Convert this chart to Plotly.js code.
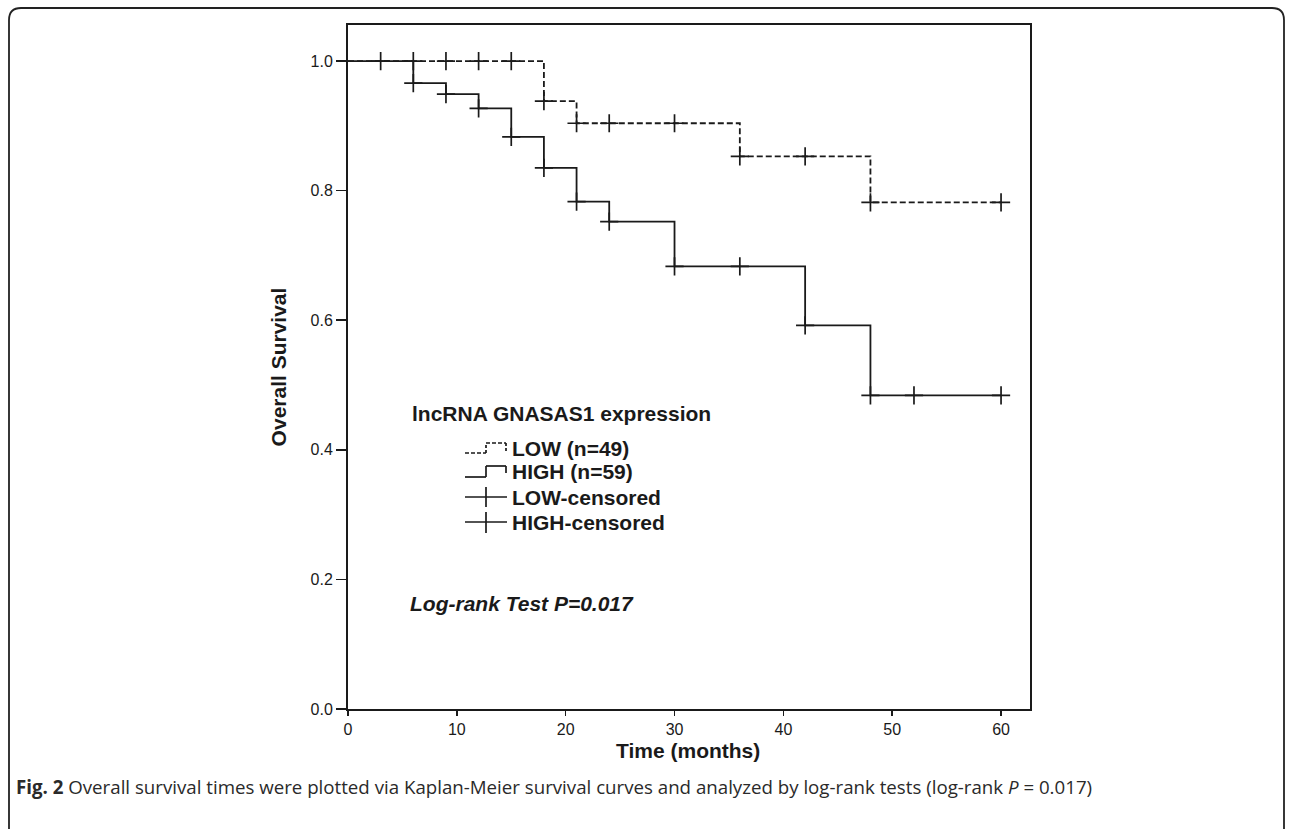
<!DOCTYPE html>
<html>
<head>
<meta charset="utf-8">
<script src="https://cdn.plot.ly/plotly-3.0.1.min.js"></script>
<style>
html,body{margin:0;padding:0;background:#fff;}
#chart{width:1292px;height:831px;}
</style>
</head>
<body>
<div id="chart"></div>
<script>
// ---- data ----
var lowStepTimes = [0, 18, 21, 36, 48, 60];
var lowStepSurv  = [1.0, 0.938, 0.904, 0.853, 0.782, 0.782];
var highStepTimes = [0, 6, 9, 12, 15, 18, 21, 24, 30, 42, 48, 60];
var highStepSurv  = [1.0, 0.966, 0.949, 0.927, 0.883, 0.835, 0.783, 0.752, 0.683, 0.592, 0.484, 0.484];
var lowCensorTimes = [3, 6, 9, 12, 15, 18, 21, 24, 30, 36, 42, 48, 60];
var lowCensorSurv  = [1.0, 1.0, 1.0, 1.0, 1.0, 0.938, 0.904, 0.904, 0.904, 0.853, 0.853, 0.782, 0.782];
var highCensorTimes = [6, 9, 12, 15, 18, 21, 24, 30, 36, 42, 48, 52, 60];
var highCensorSurv  = [0.966, 0.949, 0.927, 0.883, 0.835, 0.783, 0.752, 0.683, 0.683, 0.592, 0.484, 0.484, 0.484];
var yTickVals = [0, 0.2, 0.4, 0.6, 0.8, 1.0];
var yTickText = ["0.0", "0.2", "0.4", "0.6", "0.8", "1.0"];
var xTickVals = [0, 10, 20, 30, 40, 50, 60];
var xTitle = "Time (months)";
var yTitle = "Overall Survival";
var legendTitle = "lncRNA GNASAS1 expression";
var legendLabels = ["LOW (n=49)", "HIGH (n=59)", "LOW-censored", "HIGH-censored"];
var testText = "Log-rank Test P=0.017";
var captionText = "<b>Fig. 2</b> Overall survival times were plotted via Kaplan-Meier survival curves and analyzed by log-rank tests (log-rank <i>P</i> = 0.017)";

// ---- geometry helpers (pixel -> paper) ----
var W = 1292, H = 831;
var L = 348, R = 1030, T = 25, B = 709;
function px(x){ return (x - L) / (R - L); }
function py(y){ return (B - y) / (B - T); }

var ink = "#1a1a1a";
var arial = "Liberation Sans, Arial, sans-serif";

var traces = [
  {x: lowStepTimes, y: lowStepSurv, mode: "lines", line: {shape: "hv", color: ink, width: 1.8, dash: "6px,3px"}, hoverinfo: "skip", showlegend: false},
  {x: highStepTimes, y: highStepSurv, mode: "lines", line: {shape: "hv", color: ink, width: 1.8}, hoverinfo: "skip", showlegend: false},
  {x: lowCensorTimes, y: lowCensorSurv, mode: "markers", marker: {symbol: "cross-thin", size: 13, line: {color: ink, width: 1.7}}, hoverinfo: "skip", showlegend: false},
  {x: highCensorTimes, y: highCensorSurv, mode: "markers", marker: {symbol: "cross-thin", size: 13, line: {color: ink, width: 1.7}}, hoverinfo: "skip", showlegend: false}
];

// legend glyphs
var shapes = [];
function seg(x0, y0, x1, y1, dash){
  shapes.push({type: "line", xref: "paper", yref: "paper", x0: px(x0), y0: py(y0), x1: px(x1), y1: py(y1),
    line: {color: ink, width: 1.7, dash: dash || "solid"}});
}
// LOW dashed step
seg(465, 453, 486, 453, "4px,2px"); seg(486, 453, 486, 443, "3px,2px"); seg(486, 443, 506, 443, "4px,2px"); seg(506, 443, 506, 452, "3px,2px");
// HIGH solid step
seg(465, 477, 486, 477); seg(486, 477, 486, 466); seg(486, 466, 506, 466); seg(506, 466, 506, 473);
// LOW censored cross
seg(465, 497, 507, 497); seg(486, 487, 486, 507);
// HIGH censored cross
seg(465, 522, 507, 522); seg(486, 512, 486, 533);

// outer rounded border
var r = 12, bx0 = 9, by0 = 8, bx1 = 1284, by1 = 829;
var path = "M " + px(bx0) + "," + py(by1) +
  " L " + px(bx0) + "," + py(by0 + r) +
  " Q " + px(bx0) + "," + py(by0) + " " + px(bx0 + r) + "," + py(by0) +
  " L " + px(bx1 - r) + "," + py(by0) +
  " Q " + px(bx1) + "," + py(by0) + " " + px(bx1) + "," + py(by0 + r) +
  " L " + px(bx1) + "," + py(by1);
shapes.push({type: "path", xref: "paper", yref: "paper", path: path, line: {color: "#222", width: 1.8}});

var legFont = {family: arial, size: 21, color: ink};
var annotations = [
  {xref: "paper", yref: "paper", x: px(410), y: py(413), xanchor: "left", yanchor: "middle", showarrow: false,
   text: "<b>" + legendTitle + "</b>", font: legFont},
  {xref: "paper", yref: "paper", x: px(510), y: py(448), xanchor: "left", yanchor: "middle", showarrow: false,
   text: "<b>" + legendLabels[0] + "</b>", font: legFont},
  {xref: "paper", yref: "paper", x: px(510), y: py(472), xanchor: "left", yanchor: "middle", showarrow: false,
   text: "<b>" + legendLabels[1] + "</b>", font: legFont},
  {xref: "paper", yref: "paper", x: px(510), y: py(497), xanchor: "left", yanchor: "middle", showarrow: false,
   text: "<b>" + legendLabels[2] + "</b>", font: legFont},
  {xref: "paper", yref: "paper", x: px(510), y: py(522), xanchor: "left", yanchor: "middle", showarrow: false,
   text: "<b>" + legendLabels[3] + "</b>", font: legFont},
  {xref: "paper", yref: "paper", x: px(408), y: py(603), xanchor: "left", yanchor: "middle", showarrow: false,
   text: "<b><i>" + testText + "</i></b>", font: {family: arial, size: 21, color: ink}},
  {xref: "paper", yref: "paper", x: px(688), y: py(750), xanchor: "center", yanchor: "middle", showarrow: false,
   text: "<b>" + xTitle + "</b>", font: {family: arial, size: 21, color: ink}},
  {xref: "paper", yref: "paper", x: px(14), y: py(786), xanchor: "left", yanchor: "middle", showarrow: false,
   text: captionText, font: {family: "Open Sans, Noto Sans, sans-serif", size: 18.7, color: "#2a2a2a"}}
];

var layout = {
  width: W, height: H,
  margin: {l: L, r: W - R, t: T, b: H - B, pad: 0},
  paper_bgcolor: "#fff", plot_bgcolor: "#fff",
  showlegend: false,
  xaxis: {
    range: [0, 62.66], tickvals: xTickVals, ticks: "outside", ticklen: 5, tickwidth: 1.6, tickcolor: ink,
    showline: true, linecolor: ink, linewidth: 2, mirror: true, showgrid: false, zeroline: false,
    tickfont: {family: arial, size: 16, color: ink}
  },
  yaxis: {
    range: [0, 1.0556], tickvals: yTickVals, ticktext: yTickText, ticks: "outside", ticklen: 10, tickwidth: 1.6, tickcolor: ink,
    showline: true, linecolor: ink, linewidth: 2, mirror: true, showgrid: false, zeroline: false,
    tickfont: {family: arial, size: 16, color: ink},
    title: {text: "<b>" + yTitle + "</b>", font: {family: arial, size: 21, color: ink}, standoff: 18}
  },
  shapes: shapes,
  annotations: annotations
};

Plotly.newPlot("chart", traces, layout, {displayModeBar: false, staticPlot: true});
</script>
</body>
</html>
